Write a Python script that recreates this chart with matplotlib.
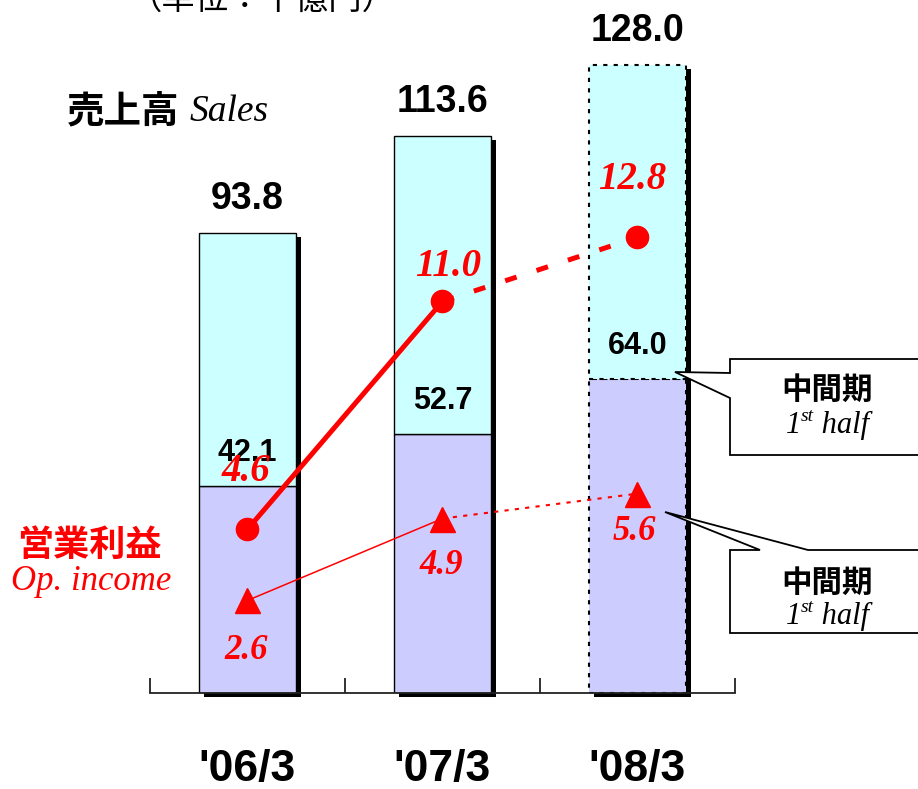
import matplotlib
matplotlib.use('Agg')
import matplotlib.pyplot as plt
from matplotlib import font_manager as fm
from matplotlib.patches import Polygon
from matplotlib.text import Annotation
from matplotlib.transforms import blended_transform_factory
import numpy as np

# ---------------- data ----------------
categories = ["'06/3", "'07/3", "'08/3"]
sales_total = [93.8, 113.6, 128.0]
sales_first_half = [42.1, 52.7, 64.0]
op_full = [4.6, 11.0, 12.8]
op_half = [2.6, 4.9, 5.6]
forecast = [False, False, True]

unit_text = "（単位：十億円）"
sales_title_jp = "売上高"
sales_title_en = "Sales"
op_title_jp = "営業利益"
op_title_en = "Op. income"
callout_jp = "中間期"

# ---------------- fonts ----------------
def has_font(name):
    try:
        fm.findfont(fm.FontProperties(family=name), fallback_to_default=False)
        return True
    except Exception:
        return False

SANS = "Liberation Sans"
SERIF = "Liberation Serif"
CJK = "Noto Sans CJK JP"
NARROW = "Liberation Sans Narrow" if has_font("Liberation Sans Narrow") else SANS
xlab_size = 37 if NARROW != SANS else 32

W, H, DPI = 918, 789, 100
fig = plt.figure(figsize=(W / DPI, H / DPI), dpi=DPI)
fig.patch.set_facecolor('white')


def fx(px):
    return px / W


def fy(py):
    return 1 - py / H


ax_left, ax_right = 150, 735
ax_bottom, ax_top = 693, 20
ax = fig.add_axes([fx(ax_left), fy(ax_bottom), (ax_right - ax_left) / W,
                   (ax_bottom - ax_top) / H])
ax.set_xlim(-0.5, 2.5)
sales_ppu = 4.906
ax.set_ylim(0, (ax_bottom - ax_top) / sales_ppu)
ax.patch.set_visible(False)
ax2 = ax.twinx()
op_ppu = 35.6
ax2.set_ylim(0, (ax_bottom - ax_top) / op_ppu)

for a in (ax, ax2):
    for s in ('top', 'left', 'right'):
        a.spines[s].set_visible(False)
ax2.spines['bottom'].set_visible(False)
ax.spines['bottom'].set_color('#222222')
ax.spines['bottom'].set_linewidth(1.3)
ax.set_yticks([])
ax2.set_yticks([])
ax.set_xticks([-0.5, 0.5, 1.5, 2.5])
ax.set_xticklabels([])
ax.tick_params(axis='x', direction='in', length=11, width=1.3, color='#222222')

x = np.arange(len(categories))
bw = 0.5
second_half = [t - f for t, f in zip(sales_total, sales_first_half)]

# shadows
dx = 5 * 3 / (ax_right - ax_left)
dy = 4 / sales_ppu
ax.bar(x + dx, sales_total, bottom=-dy, width=bw, color='black', zorder=1,
       clip_on=False, align='center')

for i in x:
    ls = (0, (2, 3)) if forecast[i] else '-'
    lw = 1.5 if forecast[i] else 1.0
    ax.bar(i, sales_first_half[i], width=bw, color='#CCCCFF', edgecolor='black',
           linewidth=lw, linestyle=ls, zorder=2)
    ax.bar(i, second_half[i], bottom=sales_first_half[i], width=bw, color='#CCFFFF',
           edgecolor='black', linewidth=lw, linestyle=ls, zorder=2)

# sales labels
for i in x:
    ax.annotate(f"{sales_total[i]:.1f}", (i, sales_total[i]), xytext=(0, 34),
                textcoords='offset pixels', ha='center', va='center',
                fontsize=27, fontweight='bold', family=SANS, zorder=8)
    ax.annotate(f"{sales_first_half[i]:.1f}", (i, sales_first_half[i]), xytext=(0, 33),
                textcoords='offset pixels', ha='center', va='center',
                fontsize=22, fontweight='bold', family=SANS, zorder=8)

# operating income lines
red = '#FF0000'
ax2.plot(x[:2], op_full[:2], color=red, lw=3.6, zorder=5, solid_capstyle='butt')
ax2.plot(x[1:], op_full[1:], color=red, lw=3.6, ls=(0, (2.4, 4.2)), zorder=5)
ax2.plot(x, op_full, 'o', ms=16, color=red, zorder=6)
ax2.plot(x[:2], op_half[:2], color=red, lw=1.1, zorder=5)
ax2.plot(x[1:], op_half[1:], color=red, lw=1.5, ls=(0, (2, 3)), zorder=5)
ax2.plot(x, op_half, '^', ms=18, color=red, zorder=6)

full_offsets = [(-2, 58), (6, 35), (-5, 58)]
half_offsets = [(-1, -50), (-1, -47), (-3, -38)]
for i in x:
    ax2.annotate(f"{op_full[i]:.1f}", (i, op_full[i]), xytext=full_offsets[i],
                 textcoords='offset pixels', ha='center', va='center', color=red,
                 fontsize=28, fontweight='bold', fontstyle='italic', family=SERIF, zorder=9)
    ax2.annotate(f"{op_half[i]:.1f}", (i, op_half[i]), xytext=half_offsets[i],
                 textcoords='offset pixels', ha='center', va='center', color=red,
                 fontsize=25, fontweight='bold', fontstyle='italic', family=SERIF, zorder=9)

# category labels
bt = blended_transform_factory(ax.transData, fig.transFigure)
for i, c in enumerate(categories):
    ax.text(i, fy(769), c, transform=bt, ha='center', va='center',
            fontsize=xlab_size, fontweight='bold', family=NARROW, clip_on=False)

# titles
fig.text(fx(262), fy(-1), unit_text, ha='center', va='center', fontsize=24,
         family=[CJK, 'DejaVu Sans'])
fig.text(fx(67), fy(111), sales_title_jp, ha='left', va='center', fontsize=27,
         fontweight='bold', family=[CJK, 'DejaVu Sans'])
fig.text(fx(190), fy(112), sales_title_en, ha='left', va='center', fontsize=27,
         fontstyle='italic', family=SERIF)
fig.text(fx(89), fy(545), op_title_jp, ha='center', va='center', fontsize=26,
         fontweight='bold', color=red, family=[CJK, 'DejaVu Sans'])
fig.text(fx(91), fy(581), op_title_en, ha='center', va='center', fontsize=25,
         fontstyle='italic', color=red, family=SERIF)

# callouts
def poly(pts):
    p = Polygon([(fx(a), fy(b)) for a, b in pts], closed=True, transform=fig.transFigure,
                facecolor='white', edgecolor='black', linewidth=1.3, zorder=10)
    fig.patches.append(p)

poly([(730, 359), (925, 359), (925, 455), (730, 455), (730, 398), (675, 372), (730, 373)])
poly([(730, 550), (760, 550), (665, 512), (808, 550), (925, 550), (925, 633), (730, 633)])


def half_label(left_px, base_px):
    t1 = fig.text(fx(left_px), fy(base_px), "1", ha='left', va='baseline', fontsize=22,
                  fontstyle='italic', family=SERIF, zorder=11)
    a2 = fig.add_artist(Annotation(
        "st", xy=(1, 0.52), xycoords=t1, ha='left', va='bottom', fontsize=14,
        fontstyle='italic', family=SERIF, zorder=11))
    fig.add_artist(Annotation(
        " half", xy=(1, 0), xycoords=(a2, t1), ha='left', va='bottom', fontsize=22,
        fontstyle='italic', family=SERIF, zorder=11))

for cy, by in [(390, 433), (583, 624)]:
    fig.text(fx(827), fy(cy), callout_jp, ha='center', va='center', fontsize=22,
             fontweight='bold', family=[CJK, 'DejaVu Sans'], zorder=11)
    half_label(786, by)

fig.savefig('out.png', dpi=DPI)
